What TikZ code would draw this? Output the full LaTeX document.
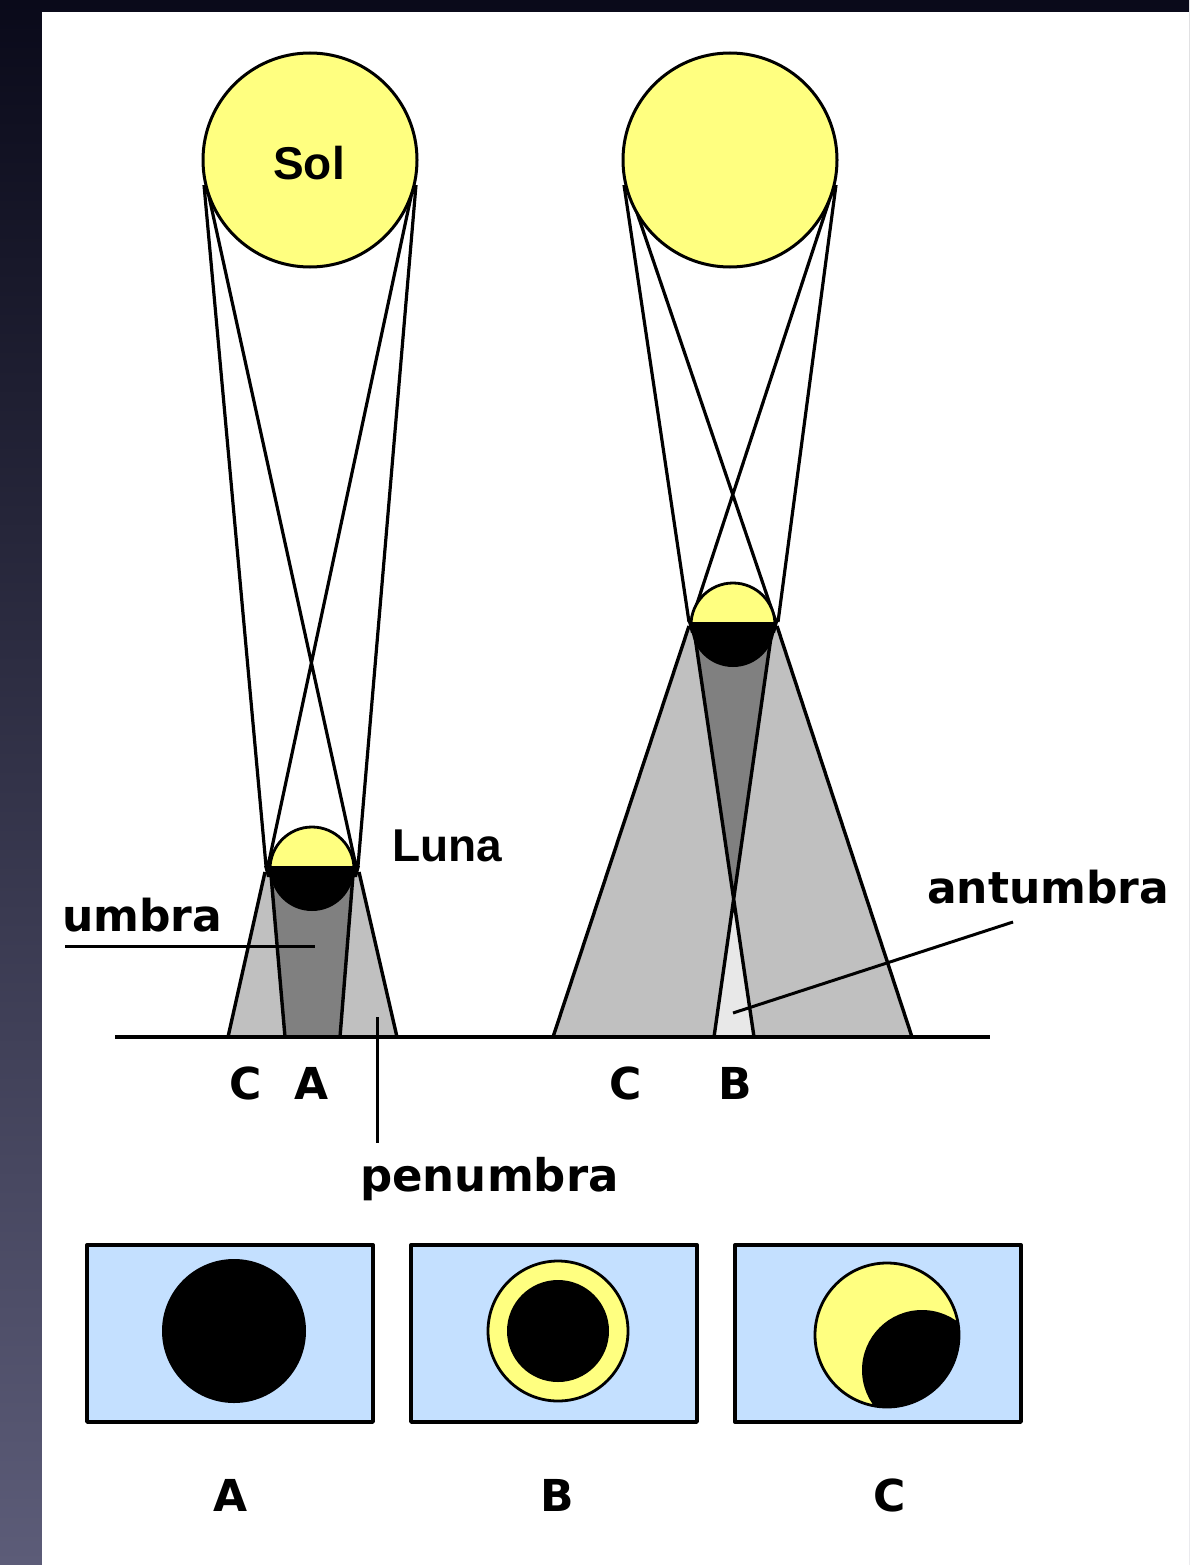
\documentclass[tikz,border=0pt]{standalone}
\usepackage{fontspec}
\newfontfamily\labfont{DejaVu Sans}
\newfontfamily\namefont{Liberation Sans}
\definecolor{frametop}{RGB}{10,10,26}
\definecolor{framebot}{RGB}{92,92,120}
\definecolor{sunyellow}{RGB}{255,255,128}
\definecolor{penum}{RGB}{192,192,192}
\definecolor{umbr}{RGB}{128,128,128}
\definecolor{antum}{RGB}{232,232,232}
\definecolor{sky}{RGB}{196,224,255}
\begin{document}
\begin{tikzpicture}[x=1bp,y=-1bp,line join=round,
  ray/.style={line width=3.2bp},
  edgeline/.style={line width=3.4bp},
  sunbody/.style={circle,draw,line width=3bp,fill=sunyellow,minimum size=214bp,inner sep=0pt},
  lab/.style={font=\labfont\bfseries\fontsize{44bp}{44bp}\selectfont,inner sep=0pt},
  widelab/.style={font=\labfont\bfseries\fontsize{45bp}{45bp}\selectfont,inner sep=0pt},
  bodyname/.style={font=\namefont\bfseries\fontsize{46bp}{46bp}\selectfont,inner sep=0pt},
  pointer/.style={line width=3bp},
  viewpanel/.style={draw,line width=3.4bp,fill=sky}]
\useasboundingbox (0,0) rectangle (1189,1565);
% frame and sheet
\shade[top color=frametop,bottom color=framebot] (0,0) rectangle (1189,1565);
\fill[white] (42,12) rectangle (1189,1565);

% ---------------- left: total eclipse ----------------
% penumbra and umbra cones
\coordinate (pL1) at (265,872); \coordinate (pL2) at (228,1037);
\coordinate (pR1) at (359,872); \coordinate (pR2) at (397,1037);
\coordinate (uL1) at (271,875); \coordinate (uL2) at (285,1037);
\coordinate (uR1) at (353,875); \coordinate (uR2) at (340,1037);
\fill[penum] (pL1) -- (pL2) -- (pR2) -- (pR1) -- cycle;
\fill[umbr] (uL1) -- (uL2) -- (uR2) -- (uR1) -- cycle;
\draw[edgeline] (pL1) -- (pL2) (pR1) -- (pR2) (uL1) -- (uL2) (uR1) -- (uR2);
% sun rays to the moon
\coordinate (sLa) at (204,185); \coordinate (sLb) at (208,192);
\coordinate (sLc) at (412,192); \coordinate (sLd) at (416,185);
\coordinate (mLa) at (266,866); \coordinate (mLb) at (268,866);
\coordinate (mLc) at (356,866); \coordinate (mLd) at (358,866);
\draw[ray] (sLa) -- (mLa) (sLb) -- (mLc) (sLc) -- (mLb) (sLd) -- (mLd);
\node[sunbody] (sunL) at (310,160) {};
\node[bodyname] (sol) at (309,163) {Sol};
% moon
\fill[sunyellow] (270,869) arc[start angle=180,end angle=360,radius=42] -- cycle;
\fill[black] (270,869) arc[start angle=180,end angle=0,radius=42] -- cycle;
\draw[line width=2.8bp] (270,869) arc[start angle=180,end angle=360,radius=42];
\fill[black] (264,866) -- (360,866) -- (357,877) -- (267,877) -- cycle;

% ---------------- right: annular eclipse ----------------
\coordinate (qL1) at (689,626); \coordinate (qL2) at (553,1037);
\coordinate (qR1) at (777,626); \coordinate (qR2) at (912,1037);
\coordinate (vL1) at (694,630); \coordinate (vL2) at (754,1037);
\coordinate (vR1) at (772,630); \coordinate (vR2) at (714,1037);
\coordinate (apex) at (733.7,899);
\fill[penum] (qL1) -- (qL2) -- (qR2) -- (qR1) -- cycle;
\fill[umbr] (vL1) -- (apex) -- (vR1) -- cycle;
\fill[antum] (apex) -- (vR2) -- (vL2) -- cycle;
\draw[edgeline] (qL1) -- (qL2) (qR1) -- (qR2) (vL1) -- (vL2) (vR1) -- (vR2);
\coordinate (sRa) at (624,185); \coordinate (sRb) at (630,192);
\coordinate (sRc) at (832,192); \coordinate (sRd) at (836,185);
\coordinate (mRa) at (689,622); \coordinate (mRb) at (691,622);
\coordinate (mRc) at (776,622); \coordinate (mRd) at (778,622);
\draw[ray] (sRa) -- (mRa) (sRb) -- (mRc) (sRc) -- (mRb) (sRd) -- (mRd);
\node[sunbody] (sunR) at (730,160) {};
\fill[sunyellow] (691,625) arc[start angle=180,end angle=360,radius=42] -- cycle;
\fill[black] (691,625) arc[start angle=180,end angle=0,radius=42] -- cycle;
\draw[line width=2.8bp] (691,625) arc[start angle=180,end angle=360,radius=42];
\fill[black] (688,622) -- (778,622) -- (775,633) -- (691,633) -- cycle;

% ground
\coordinate (g1) at (115,1037); \coordinate (g2) at (990,1037);
\draw[line width=3.6bp] (g1) -- (g2);

% labels and pointers
\node[bodyname,anchor=base west] (luna) at (392,861) {Luna};
\node[lab,anchor=base west] (umbra) at (62,931) {umbra};
\coordinate (uP1) at (65,946); \coordinate (uP2) at (315,946);
\draw[pointer] (uP1) -- (uP2);
\node[widelab,anchor=base west] (penumbra) at (360,1191) {penumbra};
\coordinate (pP1) at (377,1017); \coordinate (pP2) at (377,1143);
\draw[pointer] (pP1) -- (pP2);
\node[lab,anchor=base west] (antumbra) at (927,903) {antumbra};
\coordinate (aP1) at (733,1013); \coordinate (aP2) at (1013,922);
\draw[pointer] (aP1) -- (aP2);

\node[lab] (gC1) at (246,1083) {C};
\node[lab] (gA) at (312,1083) {A};
\node[lab] (gC2) at (626,1083) {C};
\node[lab] (gB) at (735,1083) {B};

% ---------------- views from the ground ----------------
\draw[viewpanel] (87,1245) rectangle (373,1422);
\draw[viewpanel] (411,1245) rectangle (697,1422);
\draw[viewpanel] (735,1245) rectangle (1021,1422);
% A: total
\fill[black] (234,1331) circle[radius=72];
% B: annular
\draw[line width=2.8bp,fill=sunyellow] (558,1331) circle[radius=70];
\fill[black] (558,1331) circle[radius=51];
% C: partial
\fill[sunyellow] (887,1335) circle[radius=72];
\begin{scope}
  \clip (887,1335) circle[radius=72];
  \fill[black] (922,1370) circle[radius=60];
\end{scope}
\draw[line width=2.8bp] (887,1335) circle[radius=72];

\node[lab] (vA) at (231,1495) {A};
\node[lab] (vB) at (557,1495) {B};
\node[lab] (vC) at (890,1495) {C};
\end{tikzpicture}
\end{document}
